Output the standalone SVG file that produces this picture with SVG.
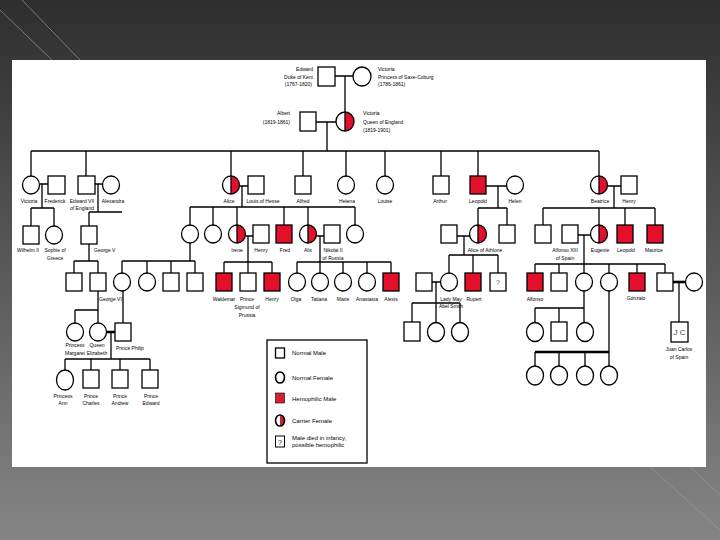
<svg xmlns="http://www.w3.org/2000/svg" width="720" height="540" viewBox="0 0 720 540">
<defs>
<linearGradient id="bg" x1="0" y1="0" x2="0" y2="1">
<stop offset="0" stop-color="#2e2e2e"/>
<stop offset="1" stop-color="#858585"/>
</linearGradient>
<style>
.m{fill:#fff;stroke:#000;stroke-width:1.3}
.h{fill:#e3102b;stroke:#000;stroke-width:1.3}
.f{fill:#fff;stroke:#000;stroke-width:1.3}
.o{fill:none;stroke:#000;stroke-width:1.3}
.r{fill:#e3102b}
.l{fill:none;stroke:#000;stroke-width:1.3}
.t{stroke-width:2.6}
text{font-family:"Liberation Sans",Arial,sans-serif;font-size:5px;fill:#000}
.c{text-anchor:middle}
.e{text-anchor:end}
.lg{font-size:6px}
</style>
</defs>
<rect width="720" height="540" fill="url(#bg)"/>
<g stroke="#9a9a9a" stroke-width="1" fill="none" opacity="0.7">
<path d="M0,10 L52,60"/>
<path d="M22,0 L80,60"/>
<path d="M650,467 L720,530"/>
<path d="M690,467 L720,495"/>
</g>
<rect x="12" y="60" width="694" height="407" fill="#fff"/>

<g id="connectors" class="l">
<path d="M335,76 H353 M345,76 V112 M316,122 H336 M327,122 V151"/>
<path d="M31,151 H599 M31,151 V176 M86,151 V176 M231,151 V176 M303,151 V176 M346,151 V176 M385,151 V176 M441,151 V176 M478,151 V176 M599,151 V176"/>
<path d="M40,184 H48 M42,184 V208 M31,208 H54 M31,208 V226 M54,208 V226"/>
<path d="M94,184 H102 M98,184 V212 M89,212 H122 M89,212 V226"/>
<path d="M240,186 H248 M242,186 V207 M190,207 H355 M190,207 V225 M213,207 V225 M237,207 V225 M284,207 V225 M308,207 V225 M355,207 V225"/>
<path d="M246,236 H253 M248,236 V262 M224,262 H272 M224,262 V273 M248,262 V273 M272,262 V273"/>
<path d="M317,236 H324 M320,236 V262 M297,262 H391 M297,262 V273 M320,262 V273 M343,262 V273 M367,262 V273 M391,262 V273"/>
<path d="M190,243 V261 M122,261 H195 M122,261 V273 M147,261 V273 M171,261 V273 M195,261 V273"/>
<path d="M89,244 V261 M74,261 H98 M74,261 V273 M98,261 V273"/>
<path d="M98,291 V310 M75,310 H98 M75,310 V323 M98,310 V323 M123,291 V323"/>
<path class="t" d="M107,332 H115"/>
<path d="M111,332 V359 M65,359 H150 M65,359 V370 M91,359 V370 M120,359 V370 M150,359 V370"/>
<path d="M486,186 H507 M498,186 V208 M478,208 H507 M478,208 V225 M507,208 V225"/>
<path d="M457,236 H470 M464,236 V255 M449,255 H498 M449,255 V273 M473,255 V273 M498,255 V273"/>
<path d="M432,282 H441 M436,282 V303 M412,303 H460 M412,303 V322 M436,303 V322 M460,303 V322"/>
<path d="M608,186 H621 M614,186 V208 M543,208 H655 M543,208 V225 M599,208 V225 M625,208 V225 M655,208 V225"/>
<path d="M578,235 H591 M584,235 V264 M535,264 H665 M535,264 V273 M559,264 V273 M584,264 V273 M609,264 V273 M637,264 V273 M665,264 V273"/>
<path class="t" d="M673,282 H686"/>
<path d="M679,282 V322"/>
<path d="M584,291 V308 M535,308 H584 M535,308 V322 M559,308 V322 M584,308 V322"/>
<path d="M609,291 V352 M535,352 V366 M559,352 V366 M585,352 V366 M609,352 V366"/>
<path class="t" d="M535,352 H609"/>
</g>

<!-- Generation 1 -->
<g id="edward"><rect class="m" x="318" y="67" width="17" height="19"/>
<text class="e" x="313" y="71">Edward</text><text class="e" x="313" y="78.5">Duke of Kent</text><text class="e" x="312" y="86">(1767-1820)</text></g>
<g id="victoria-saxe"><ellipse class="f" cx="362" cy="76.5" rx="9" ry="9.5"/>
<text x="378" y="71">Victoria</text><text x="378" y="78.5">Princess of Saxe-Coburg</text><text x="378" y="86">(1786-1861)</text></g>
<g id="albert"><rect class="m" x="300" y="112" width="16" height="19"/>
<text class="e" x="290" y="115">Albert</text><text class="e" x="290" y="124">(1819-1861)</text></g>
<g id="victoria-queen"><ellipse cx="345" cy="121.5" rx="9" ry="9.5" fill="#fff"/><path class="r" d="M345,112 A9,9.5 0 0 1 345,131 Z"/><ellipse class="o" cx="345" cy="121.5" rx="9" ry="9.5"/><path class="l" d="M345,112 V131"/>
<text x="363" y="115">Victoria</text><text x="363" y="123.5">Queen of England</text><text x="363" y="132">(1819-1901)</text></g>

<!-- Generation 2 -->
<g id="victoria-g2"><ellipse class="f" cx="31" cy="185" rx="8.5" ry="9"/><text class="c" x="29" y="203">Victoria</text></g>
<g id="frederick"><rect class="m" x="48" y="176" width="17" height="18"/><text class="c" x="55" y="203">Frederick</text></g>
<g id="edward7"><rect class="m" x="78" y="176" width="17" height="18"/><text class="c" x="82" y="203">Edward VII</text><text class="c" x="82" y="210">of England</text></g>
<g id="alexandra"><ellipse class="f" cx="111" cy="185" rx="8.5" ry="9"/><text class="c" x="113" y="203">Alexandra</text></g>
<g id="alice"><ellipse cx="231" cy="185" rx="8.5" ry="9" fill="#fff"/><path class="r" d="M231,176 A8.5,9 0 0 1 231,194 Z"/><ellipse class="o" cx="231" cy="185" rx="8.5" ry="9"/><path class="l" d="M231,176 V194"/><text class="c" x="229" y="203">Alice</text></g>
<g id="louis"><rect class="m" x="248" y="176" width="16" height="18"/><text class="c" x="263" y="203">Louis of Hesse</text></g>
<g id="alfred"><rect class="m" x="295" y="176" width="16" height="18"/><text class="c" x="303" y="203">Alfred</text></g>
<g id="helena"><ellipse class="f" cx="346" cy="185" rx="8.5" ry="9"/><text class="c" x="347" y="203">Helena</text></g>
<g id="louise"><ellipse class="f" cx="385" cy="185" rx="8.5" ry="9"/><text class="c" x="385" y="203">Louise</text></g>
<g id="arthur"><rect class="m" x="433" y="176" width="16" height="18"/><text class="c" x="440" y="203">Arthur</text></g>
<g id="leopold-g2"><rect class="h" x="470" y="176" width="16" height="18"/><text class="c" x="478" y="203">Leopold</text></g>
<g id="helen"><ellipse class="f" cx="515" cy="185" rx="8.5" ry="9"/><text class="c" x="515" y="203">Helen</text></g>
<g id="beatrice"><ellipse cx="599" cy="185" rx="8.5" ry="9" fill="#fff"/><path class="r" d="M599,176 A8.5,9 0 0 1 599,194 Z"/><ellipse class="o" cx="599" cy="185" rx="8.5" ry="9"/><path class="l" d="M599,176 V194"/><text class="c" x="600" y="203">Beatrice</text></g>
<g id="henry-g2"><rect class="m" x="621" y="176" width="16" height="18"/><text class="c" x="629" y="203">Henry</text></g>

<!-- Generation 3 -->
<g id="wilhelm"><rect class="m" x="23" y="226" width="16" height="18"/><text class="c" x="28" y="252">Wilhelm II</text></g>
<g id="sophie"><ellipse class="f" cx="54" cy="235" rx="8.5" ry="9"/><text class="c" x="55" y="252">Sophie of</text><text class="c" x="55" y="260">Greece</text></g>
<g id="george5"><rect class="m" x="81" y="226" width="16" height="18"/><text x="94" y="252">George V</text></g>
<g id="victoria-hesse"><ellipse class="f" cx="190" cy="234" rx="8.5" ry="9"/></g>
<g id="ella"><ellipse class="f" cx="213" cy="234" rx="8.5" ry="9"/></g>
<g id="irene"><ellipse cx="237" cy="234" rx="8.5" ry="9" fill="#fff"/><path class="r" d="M237,225 A8.5,9 0 0 1 237,243 Z"/><ellipse class="o" cx="237" cy="234" rx="8.5" ry="9"/><path class="l" d="M237,225 V243"/><text class="c" x="237" y="252">Irene</text></g>
<g id="henry-g3"><rect class="m" x="253" y="225" width="16" height="18"/><text class="c" x="261" y="252">Henry</text></g>
<g id="fred"><rect class="h" x="276" y="225" width="16" height="18"/><text class="c" x="285" y="252">Fred</text></g>
<g id="alix"><ellipse cx="308" cy="234" rx="8.5" ry="9" fill="#fff"/><path class="r" d="M308,225 A8.5,9 0 0 1 308,243 Z"/><ellipse class="o" cx="308" cy="234" rx="8.5" ry="9"/><path class="l" d="M308,225 V243"/><text class="c" x="308" y="252">Alix</text></g>
<g id="nikolai"><rect class="m" x="324" y="225" width="16" height="18"/><text class="c" x="333" y="252">Nikolai II</text><text class="c" x="333" y="260">of Russia</text></g>
<g id="marie-hesse"><ellipse class="f" cx="355" cy="234" rx="8.5" ry="9"/></g>
<g id="alexander"><rect class="m" x="441" y="225" width="16" height="18"/></g>
<g id="alice-athlone"><ellipse cx="478" cy="234" rx="8.5" ry="9" fill="#fff"/><path class="r" d="M478,225 A8.5,9 0 0 1 478,243 Z"/><ellipse class="o" cx="478" cy="234" rx="8.5" ry="9"/><path class="l" d="M478,225 V243"/><text class="c" x="485" y="252">Alice of Athlone</text></g>
<g id="charles-edward"><rect class="m" x="499" y="225" width="16" height="18"/></g>
<g id="alexander-b"><rect class="m" x="535" y="225" width="16" height="18"/></g>
<g id="alfonso13"><rect class="m" x="562" y="225" width="16" height="18"/><text class="c" x="565" y="252">Alfonso XIII</text><text class="c" x="565" y="260">of Spain</text></g>
<g id="eugenie"><ellipse cx="599" cy="234" rx="8.5" ry="9" fill="#fff"/><path class="r" d="M599,225 A8.5,9 0 0 1 599,243 Z"/><ellipse class="o" cx="599" cy="234" rx="8.5" ry="9"/><path class="l" d="M599,225 V243"/><text class="c" x="600" y="252">Eugenie</text></g>
<g id="leopold-g3"><rect class="h" x="617" y="225" width="16" height="18"/><text class="c" x="626" y="252">Leopold</text></g>
<g id="maurice"><rect class="h" x="647" y="225" width="16" height="18"/><text class="c" x="654" y="252">Maurice</text></g>

<!-- Generation 4 -->
<g id="edward8"><rect class="m" x="66" y="273" width="16" height="18"/></g>
<g id="george6"><rect class="m" x="90" y="273" width="16" height="18"/><text x="99" y="301">George VI</text></g>
<g id="alice-b"><ellipse class="f" cx="122" cy="282" rx="8.5" ry="9"/></g>
<g id="louise-b"><ellipse class="f" cx="147" cy="282" rx="8.5" ry="9"/></g>
<g id="george-b"><rect class="m" x="163" y="273" width="16" height="18"/></g>
<g id="louis-b"><rect class="m" x="187" y="273" width="16" height="18"/></g>
<g id="waldemar"><rect class="h" x="216" y="273" width="16" height="18"/><text class="c" x="224" y="301">Waldemar</text></g>
<g id="sigmund"><rect class="m" x="240" y="273" width="16" height="18"/><text class="c" x="247" y="301">Prince</text><text class="c" x="247" y="309">Sigmund of</text><text class="c" x="247" y="317">Prussia</text></g>
<g id="henry-g4"><rect class="h" x="264" y="273" width="16" height="18"/><text class="c" x="272" y="301">Henry</text></g>
<g id="olga"><ellipse class="f" cx="297" cy="282" rx="8.5" ry="9"/><text class="c" x="296" y="301">Olga</text></g>
<g id="tatiana"><ellipse class="f" cx="320" cy="282" rx="8.5" ry="9"/><text class="c" x="319" y="301">Tatiana</text></g>
<g id="marie"><ellipse class="f" cx="343" cy="282" rx="8.5" ry="9"/><text class="c" x="343" y="301">Marie</text></g>
<g id="anastasia"><ellipse class="f" cx="367" cy="282" rx="8.5" ry="9"/><text class="c" x="367" y="301">Anastasia</text></g>
<g id="alexis"><rect class="h" x="383" y="273" width="16" height="18"/><text class="c" x="391" y="301">Alexis</text></g>
<g id="abel-smith"><rect class="m" x="416" y="273" width="16" height="18"/></g>
<g id="lady-may"><ellipse class="f" cx="449" cy="282" rx="8.5" ry="9"/><text class="c" x="451" y="301">Lady May</text><text class="c" x="451" y="308">Abel Smith</text></g>
<g id="rupert"><rect class="h" x="465" y="273" width="16" height="18"/><text class="c" x="474" y="301">Rupert</text></g>
<g id="unknown"><rect class="m" x="490" y="273" width="16" height="18"/><text class="c" x="498" y="285" style="font-size:7px;fill:#555">?</text></g>
<g id="alfonso"><rect class="h" x="527" y="273" width="16" height="18"/><text class="c" x="535" y="301">Alfonso</text></g>
<g id="jaime"><rect class="m" x="551" y="273" width="16" height="18"/></g>
<g id="beatriz"><ellipse class="f" cx="584" cy="282" rx="8.5" ry="9"/></g>
<g id="maria-cristina"><ellipse class="f" cx="609" cy="282" rx="8.5" ry="9"/></g>
<g id="gonzalo"><rect class="h" x="629" y="273" width="16" height="18"/><text class="c" x="636" y="300">Gonzalo</text></g>
<g id="juan"><rect class="m" x="657" y="273" width="16" height="18"/></g>
<g id="maria-mercedes"><ellipse class="f" cx="694" cy="282" rx="8.5" ry="9"/></g>

<!-- Generation 5 -->
<g id="margaret"><ellipse class="f" cx="75" cy="332" rx="8.5" ry="9"/><text class="c" x="75" y="347">Princess</text><text class="c" x="75" y="355">Margaret</text></g>
<g id="elizabeth"><ellipse class="f" cx="98" cy="332" rx="8.5" ry="9"/><text class="c" x="97" y="347">Queen</text><text class="c" x="97" y="355">Elizabeth</text></g>
<g id="philip"><rect class="m" x="115" y="323" width="16" height="18"/><text x="116" y="350">Prince Philip</text></g>
<g id="may-son"><rect class="m" x="404" y="322" width="16" height="19"/></g>
<g id="may-d1"><ellipse class="f" cx="436" cy="332" rx="8.5" ry="9.5"/></g>
<g id="may-d2"><ellipse class="f" cx="460" cy="332" rx="8.5" ry="9.5"/></g>
<g id="sp-d1"><ellipse class="f" cx="535" cy="332" rx="8.5" ry="9.5"/></g>
<g id="sp-s1"><rect class="m" x="551" y="322" width="16" height="19"/></g>
<g id="sp-d2"><ellipse class="f" cx="585" cy="332" rx="8.5" ry="9.5"/></g>
<g id="juan-carlos"><rect class="m" x="671" y="322" width="17" height="20"/><text class="c" x="679.5" y="335" style="font-size:8px;fill:#444">J C</text><text class="c" x="679" y="351">Juan Carlos</text><text class="c" x="679" y="359">of Spain</text></g>

<!-- Generation 6 -->
<g id="anne"><ellipse class="f" cx="65" cy="380" rx="8.5" ry="10"/><text class="c" x="63" y="398">Princess</text><text class="c" x="63" y="405">Ann</text></g>
<g id="charles"><rect class="m" x="83" y="370" width="16" height="18"/><text class="c" x="91" y="398">Prince</text><text class="c" x="91" y="405">Charles</text></g>
<g id="andrew"><rect class="m" x="112" y="370" width="16" height="18"/><text class="c" x="120" y="398">Prince</text><text class="c" x="120" y="405">Andrew</text></g>
<g id="edward-p"><rect class="m" x="142" y="370" width="16" height="18"/><text class="c" x="151" y="398">Prince</text><text class="c" x="151" y="405">Edward</text></g>
<g id="sp-g6-1"><ellipse class="f" cx="535" cy="375.5" rx="8.5" ry="9.5"/></g>
<g id="sp-g6-2"><ellipse class="f" cx="559" cy="375.5" rx="8.5" ry="9.5"/></g>
<g id="sp-g6-3"><ellipse class="f" cx="585" cy="375.5" rx="8.5" ry="9.5"/></g>
<g id="sp-g6-4"><ellipse class="f" cx="609" cy="375.5" rx="8.5" ry="9.5"/></g>

<!-- Legend -->
<g id="legend">
<rect x="267" y="340" width="100" height="123" fill="#fff" stroke="#000" stroke-width="1.3"/>
<rect class="m" x="275.5" y="348" width="9" height="10" stroke-width="1"/>
<text class="lg" x="292" y="355">Normal Male</text>
<ellipse cx="280" cy="377.5" rx="4.5" ry="5.5" fill="#fff" stroke="#000" stroke-width="1.6"/>
<text class="lg" x="292" y="380">Normal Female</text>
<rect x="275.5" y="393" width="9" height="10" fill="#d42030" stroke="#000" stroke-width="0.6"/>
<text class="lg" x="292" y="401">Hemophilic Male</text>
<ellipse cx="280" cy="420.5" rx="4.5" ry="5.5" fill="#fff"/>
<path d="M280,415 A4.5,5.5 0 0 1 280,426 Z" fill="#d42030"/>
<ellipse cx="280" cy="420.5" rx="4.5" ry="5.5" fill="none" stroke="#000" stroke-width="1.6"/>
<text class="lg" x="292" y="423">Carrier Female</text>
<rect x="275.5" y="436" width="9" height="11" fill="#fff" stroke="#000" stroke-width="1"/>
<text x="280" y="444.5" style="font-size:7px;text-anchor:middle">?</text>
<text class="lg" x="292" y="440">Male died in infancy,</text>
<text class="lg" x="292" y="447">possible hemophilic</text>
</g>
</svg>
